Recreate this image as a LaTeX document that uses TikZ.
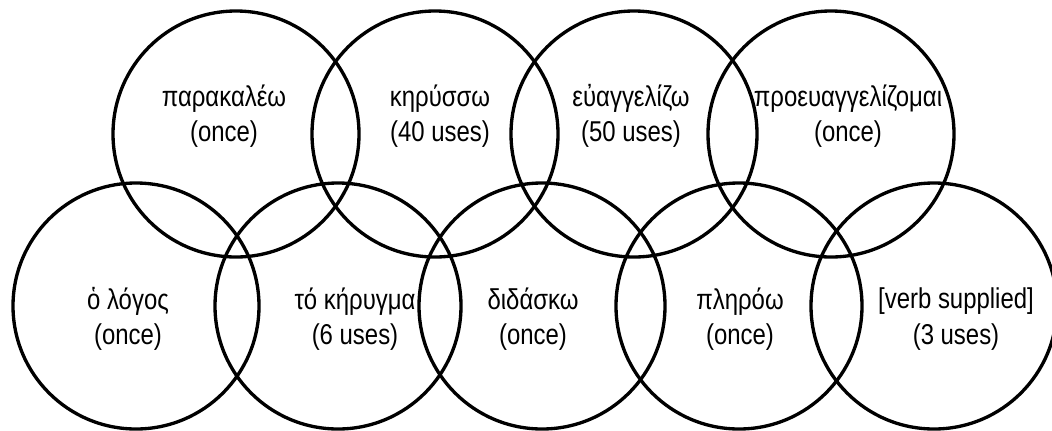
\documentclass[tikz,border=0pt]{standalone}
\usepackage{fontspec}
\setmainfont{Liberation Sans}[FakeStretch=0.835]
\begin{document}
\begin{tikzpicture}[x=0.75pt,y=-0.75pt,
  ring/.style={circle,draw=black,line width=2.5pt,minimum size=184.5pt,inner sep=0pt},
  lbl/.style={align=center,font=\fontsize{21.5pt}{26.6pt}\selectfont,inner sep=0pt}]
\useasboundingbox (0,0) rectangle (1052,430);
% top row
\node[ring] (t1) at (236,134) {};
\node[ring] (t2) at (435,134) {};
\node[ring] (t3) at (634,134) {};
\node[ring] (t4) at (831,134) {};
% bottom row
\node[ring] (b1) at (136,306) {};
\node[ring] (b2) at (338,306) {};
\node[ring] (b3) at (542,306) {};
\node[ring] (b4) at (739,306) {};
\node[ring] (b5) at (934,306) {};
% labels
\node[lbl] (lt1) at (224,116) {παρακαλέω\\(once)};
\node[lbl] (lt2) at (440,116) {κηρύσσω\\(40 uses)};
\node[lbl] (lt3) at (631,116) {εὐαγγελίζω\\(50 uses)};
\node[lbl] (lt4) at (848,116) {προευαγγελίζομαι\\(once)};
\node[lbl] (lb1) at (128,319) {ὁ λόγος\\(once)};
\node[lbl] (lb2) at (355,319) {τό κήρυγμα\\(6 uses)};
\node[lbl] (lb3) at (533,319) {διδάσκω\\(once)};
\node[lbl] (lb4) at (740,319) {πληρόω\\(once)};
\node[lbl] (lb5) at (956,319) {[verb supplied]\\(3 uses)};
\end{tikzpicture}
\end{document}
